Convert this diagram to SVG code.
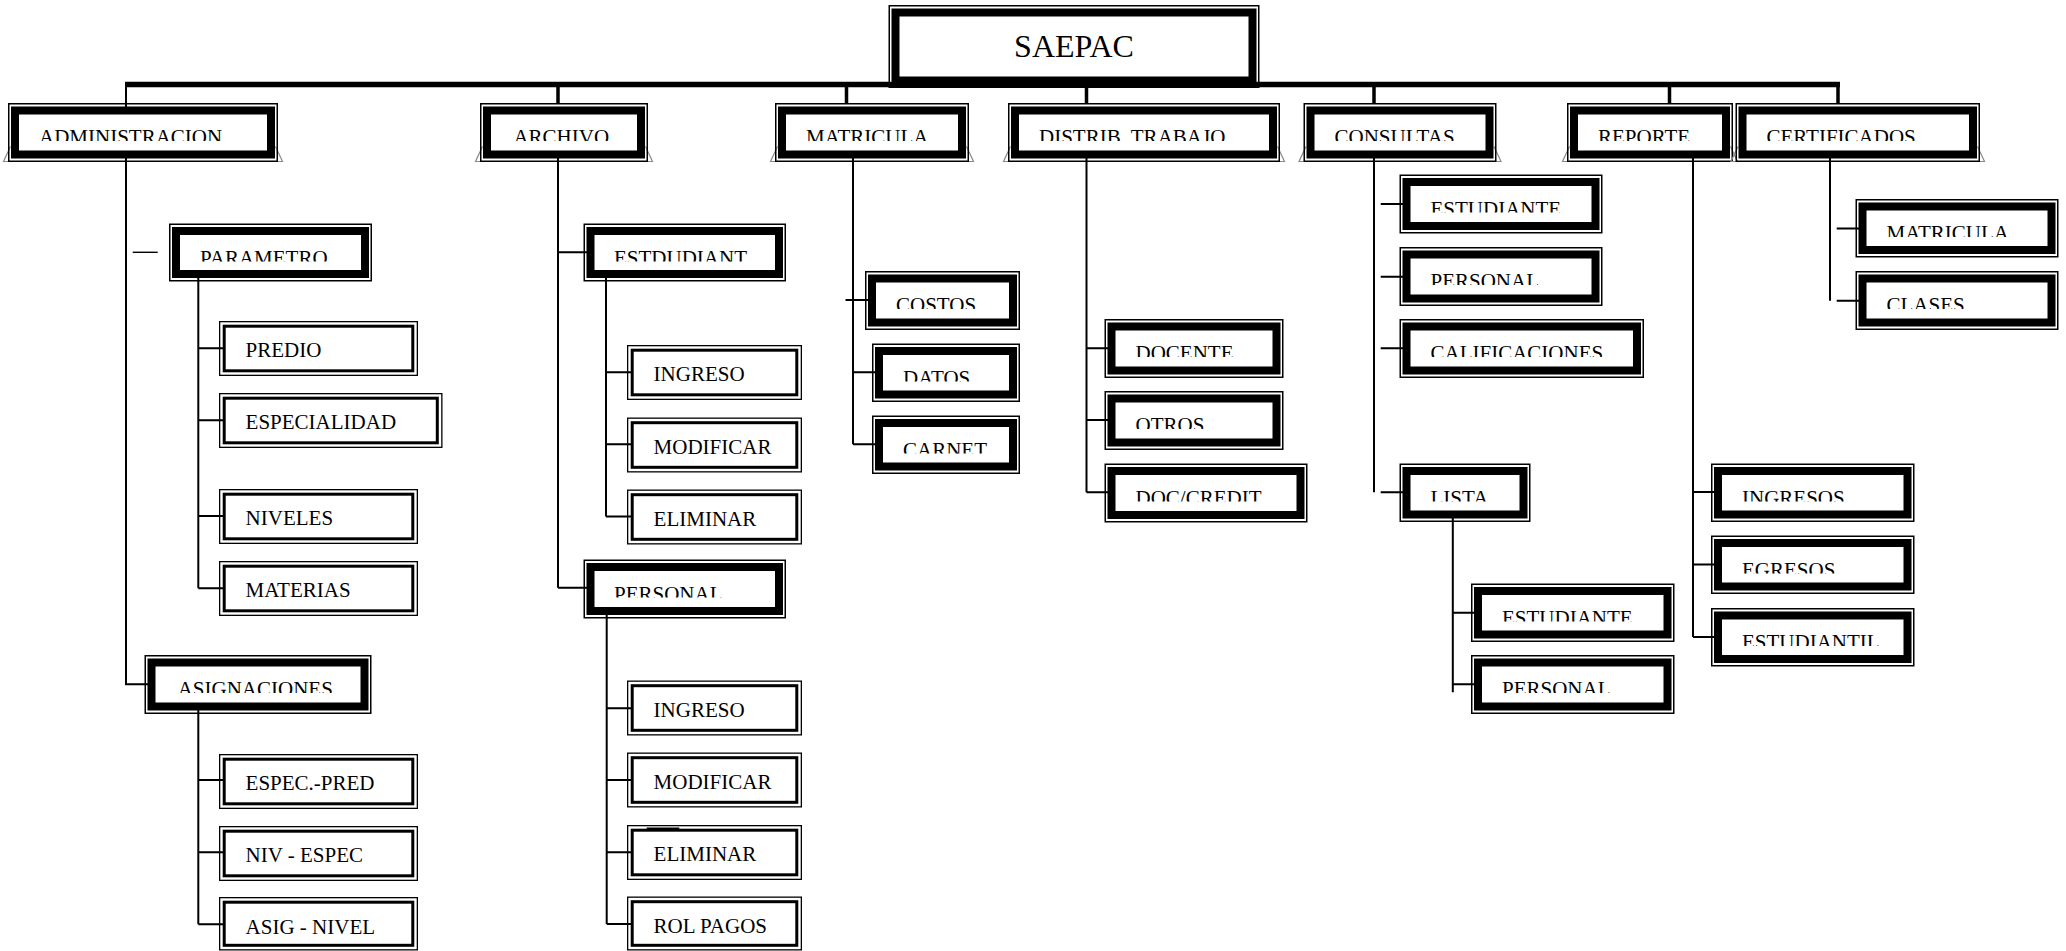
<svg xmlns="http://www.w3.org/2000/svg" width="2066" height="951" viewBox="0 0 2066 951">
<style>
.o{fill:none;stroke:#000;stroke-width:1.5}
.b{fill:#fff;stroke:#000;stroke-width:8}
.to{fill:none;stroke:#000;stroke-width:1.3}
.ti{fill:#fff;stroke:#000;stroke-width:3}
.bev{fill:none;stroke:#8a8a8a;stroke-width:1.2}
.c{fill:none;stroke:#000;stroke-width:2}
.ct{fill:none;stroke:#000;stroke-width:3.5}
.bar{fill:none;stroke:#000;stroke-width:5.5}
.thin{fill:none;stroke:#000;stroke-width:1.4}
.lbl{font-family:"Liberation Serif","Times New Roman",serif;font-size:21px;fill:#000}
.big{font-family:"Liberation Serif","Times New Roman",serif;font-size:32px;fill:#000}
</style>
<rect width="2066" height="951" fill="#fff"/>
<g id="connectors">
<path class="bar" d="M125 84.5H1840"/>
<path class="ct" d="M558 84.5V104M846.5 84.5V104M1086.5 84.5V104M1374 84.5V104M1669.5 84.5V104M1838 84.5V104"/>
<path class="c" d="M126 84.5V684.3H148"/>
<path class="thin" d="M132.7 252.3H157.7"/>
<path class="c" d="M198.3 275V588.3M198.3 348.3H223M198.3 420.3H223M198.3 516H223M198.3 588.3H223"/>
<path class="c" d="M198.3 706V924.3M198.3 780H223M198.3 852.3H223M198.3 924.3H223"/>
<path class="c" d="M558 150V587.7M558 252.3H588M558 587.7H588"/>
<path class="c" d="M606 275V516.5M606 372.3H631M606 444.3H631M606 516.5H631"/>
<path class="c" d="M606.7 612V924M606.7 708.3H631M606.7 780H631M606.7 852.3H631M606.7 924H631"/>
<path class="thin" d="M646.7 828.3H679.3"/>
<path class="c" d="M853 150V444.3M845.5 300H869M853 372.3H876M853 444.3H876"/>
<path class="c" d="M1086.5 150V492.3M1086.5 348.3H1108M1086.5 420H1108M1086.5 492.3H1108"/>
<path class="c" d="M1374 150V492.3M1380.7 204H1403M1380.7 276.7H1403M1380.7 348.3H1403M1380.7 492.3H1403"/>
<path class="c" d="M1452.8 515V692.3M1452.8 612.7H1475M1452.8 684.3H1475"/>
<path class="c" d="M1693 150V637M1693 492H1715M1693 564.6H1715M1693 637H1715"/>
<path class="c" d="M1830 150V300.8M1836.7 228.6H1859M1836.7 300.8H1859"/>
</g>
<g id="n-saepac">
<rect class="o" x="889.25" y="5.75" width="369.5" height="81.5"/>
<rect class="b" x="895.5" y="12.5" width="357" height="68"/>
<text class="big" x="1074" y="56.7" text-anchor="middle">SAEPAC</text>
</g>
<g id="n-administracion">
<path class="bev" d="M10.5 146.5L3.5 161.5H282.5L275.5 146.5"/>
<rect class="o" x="8.75" y="103.75" width="268.5" height="57.5"/>
<rect class="b" x="15" y="110.5" width="256" height="44"/>
<svg x="19" y="114.5" width="248" height="26.5"><text class="lbl" x="20" y="29.5">ADMINISTRACION</text></svg>
</g>
<g id="n-archivo">
<path class="bev" d="M482.5 146.5L475.5 161.5H652.5L645.5 146.5"/>
<rect class="o" x="480.75" y="103.75" width="166.5" height="57.5"/>
<rect class="b" x="487" y="110.5" width="154" height="44"/>
<svg x="491" y="114.5" width="146" height="26.5"><text class="lbl" x="22.4" y="29.5">ARCHIVO</text></svg>
</g>
<g id="n-matricula">
<path class="bev" d="M777.5 146.5L770.5 161.5H973.5L966.5 146.5"/>
<rect class="o" x="775.75" y="103.75" width="192.5" height="57.5"/>
<rect class="b" x="782" y="110.5" width="180" height="44"/>
<svg x="786" y="114.5" width="172" height="26.5"><text class="lbl" x="20" y="29.5">MATRICULA</text></svg>
</g>
<g id="n-distrib">
<path class="bev" d="M1010.5 146.5L1003.5 161.5H1284.5L1277.5 146.5"/>
<rect class="o" x="1008.75" y="103.75" width="270.5" height="57.5"/>
<rect class="b" x="1015" y="110.5" width="258" height="44"/>
<svg x="1019" y="114.5" width="250" height="26.5"><text class="lbl" x="20" y="29.5">DISTRIB. TRABAJO</text></svg>
</g>
<g id="n-consultas">
<path class="bev" d="M1306 146.5L1299 161.5H1501L1494 146.5"/>
<rect class="o" x="1304.25" y="103.75" width="191.5" height="57.5"/>
<rect class="b" x="1310.5" y="110.5" width="179" height="44"/>
<svg x="1314.5" y="114.5" width="171" height="26.5"><text class="lbl" x="20" y="29.5">CONSULTAS</text></svg>
</g>
<g id="n-reporte">
<path class="bev" d="M1569.5 146.5L1562.5 161.5H1737.5L1730.5 146.5"/>
<rect class="o" x="1567.75" y="103.75" width="164.5" height="57.5"/>
<rect class="b" x="1574" y="110.5" width="152" height="44"/>
<svg x="1578" y="114.5" width="144" height="26.5"><text class="lbl" x="20" y="29.5">REPORTE</text></svg>
</g>
<g id="n-certificados">
<path class="bev" d="M1738 146.5L1731 161.5H1984.5L1977.5 146.5"/>
<rect class="o" x="1736.25" y="103.75" width="243" height="57.5"/>
<rect class="b" x="1742.5" y="110.5" width="230.5" height="44"/>
<svg x="1746.5" y="114.5" width="222.5" height="26.5"><text class="lbl" x="20" y="29.5">CERTIFICADOS</text></svg>
</g>
<g id="n-parametro">
<rect class="o" x="169.75" y="224.25" width="201.5" height="56.5"/>
<rect class="b" x="176" y="231" width="189" height="43"/>
<svg x="180" y="235" width="181" height="26.5"><text class="lbl" x="20" y="29.5">PARAMETRO</text></svg>
</g>
<g id="n-predio">
<rect class="to" x="219.65" y="321.65" width="197.7" height="53.7"/>
<rect class="ti" x="224.2" y="326.2" width="188.6" height="44.6"/>
<text class="lbl" x="245.6" y="357.3">PREDIO</text>
</g>
<g id="n-especialidad">
<rect class="to" x="219.65" y="393.65" width="222.2" height="53.7"/>
<rect class="ti" x="224.2" y="398.2" width="213.1" height="44.6"/>
<text class="lbl" x="245.6" y="429.3">ESPECIALIDAD</text>
</g>
<g id="n-niveles">
<rect class="to" x="219.65" y="489.65" width="197.7" height="53.7"/>
<rect class="ti" x="224.2" y="494.2" width="188.6" height="44.6"/>
<text class="lbl" x="245.6" y="525.3">NIVELES</text>
</g>
<g id="n-materias">
<rect class="to" x="219.65" y="561.65" width="197.7" height="53.7"/>
<rect class="ti" x="224.2" y="566.2" width="188.6" height="44.6"/>
<text class="lbl" x="245.6" y="597.3">MATERIAS</text>
</g>
<g id="n-asignaciones">
<rect class="o" x="145.25" y="655.75" width="225.5" height="57.5"/>
<rect class="b" x="151.5" y="662.5" width="213" height="44"/>
<svg x="155.5" y="666.5" width="205" height="26.5"><text class="lbl" x="22.2" y="29.5">ASIGNACIONES</text></svg>
</g>
<g id="n-espec-pred">
<rect class="to" x="219.65" y="754.65" width="197.7" height="53.7"/>
<rect class="ti" x="224.2" y="759.2" width="188.6" height="44.6"/>
<text class="lbl" x="245.6" y="790.3">ESPEC.-PRED</text>
</g>
<g id="n-niv-espec">
<rect class="to" x="219.65" y="826.65" width="197.7" height="53.7"/>
<rect class="ti" x="224.2" y="831.2" width="188.6" height="44.6"/>
<text class="lbl" x="245.6" y="862.3">NIV - ESPEC</text>
</g>
<g id="n-asig-nivel">
<rect class="to" x="219.65" y="897.65" width="197.7" height="52.2"/>
<rect class="ti" x="224.2" y="902.2" width="188.6" height="43.1"/>
<text class="lbl" x="245.6" y="933.8">ASIG - NIVEL</text>
</g>
<g id="n-estdudiant">
<rect class="o" x="584.25" y="224.25" width="201" height="56.5"/>
<rect class="b" x="590.5" y="231" width="188.5" height="43"/>
<svg x="594.5" y="235" width="180.5" height="26.5"><text class="lbl" x="19.5" y="29.5">ESTDUDIANT</text></svg>
</g>
<g id="n-ingreso-e">
<rect class="to" x="627.65" y="345.65" width="173.7" height="53.7"/>
<rect class="ti" x="632.2" y="350.2" width="164.6" height="44.6"/>
<text class="lbl" x="653.6" y="381.3">INGRESO</text>
</g>
<g id="n-modificar-e">
<rect class="to" x="627.65" y="418.15" width="173.7" height="53.7"/>
<rect class="ti" x="632.2" y="422.7" width="164.6" height="44.6"/>
<text class="lbl" x="653.6" y="453.8">MODIFICAR</text>
</g>
<g id="n-eliminar-e">
<rect class="to" x="627.65" y="490.15" width="173.7" height="53.7"/>
<rect class="ti" x="632.2" y="494.7" width="164.6" height="44.6"/>
<text class="lbl" x="653.6" y="525.8">ELIMINAR</text>
</g>
<g id="n-personal-a">
<rect class="o" x="584.25" y="560.25" width="201" height="57.5"/>
<rect class="b" x="590.5" y="567" width="188.5" height="44"/>
<svg x="594.5" y="571" width="180.5" height="26.5"><text class="lbl" x="19.5" y="29.5">PERSONAL</text></svg>
</g>
<g id="n-ingreso-p">
<rect class="to" x="627.65" y="681.15" width="173.7" height="53.7"/>
<rect class="ti" x="632.2" y="685.7" width="164.6" height="44.6"/>
<text class="lbl" x="653.6" y="716.8">INGRESO</text>
</g>
<g id="n-modificar-p">
<rect class="to" x="627.65" y="753.15" width="173.7" height="53.7"/>
<rect class="ti" x="632.2" y="757.7" width="164.6" height="44.6"/>
<text class="lbl" x="653.6" y="788.8">MODIFICAR</text>
</g>
<g id="n-eliminar-p">
<rect class="to" x="627.65" y="825.65" width="173.7" height="53.7"/>
<rect class="ti" x="632.2" y="830.2" width="164.6" height="44.6"/>
<text class="lbl" x="653.6" y="861.3">ELIMINAR</text>
</g>
<g id="n-rol-pagos">
<rect class="to" x="627.65" y="897.15" width="173.7" height="52.7"/>
<rect class="ti" x="632.2" y="901.7" width="164.6" height="43.6"/>
<text class="lbl" x="653.6" y="932.8">ROL PAGOS</text>
</g>
<g id="n-costos">
<rect class="o" x="865.75" y="271.75" width="153.5" height="57.5"/>
<rect class="b" x="872" y="278.5" width="141" height="44"/>
<svg x="876" y="282.5" width="133" height="26.5"><text class="lbl" x="20" y="29.5">COSTOS</text></svg>
</g>
<g id="n-datos">
<rect class="o" x="872.75" y="344.25" width="146.5" height="57"/>
<rect class="b" x="879" y="351" width="134" height="43.5"/>
<svg x="883" y="355" width="126" height="26.5"><text class="lbl" x="20" y="29.5">DATOS</text></svg>
</g>
<g id="n-carnet">
<rect class="o" x="872.75" y="416.25" width="146.5" height="57"/>
<rect class="b" x="879" y="423" width="134" height="43.5"/>
<svg x="883" y="427" width="126" height="26.5"><text class="lbl" x="20" y="29.5">CARNET</text></svg>
</g>
<g id="n-docente">
<rect class="o" x="1105.25" y="319.75" width="177.5" height="57.5"/>
<rect class="b" x="1111.5" y="326.5" width="165" height="44"/>
<svg x="1115.5" y="330.5" width="157" height="26.5"><text class="lbl" x="20" y="29.5">DOCENTE</text></svg>
</g>
<g id="n-otros">
<rect class="o" x="1105.25" y="391.75" width="177.5" height="57.5"/>
<rect class="b" x="1111.5" y="398.5" width="165" height="44"/>
<svg x="1115.5" y="402.5" width="157" height="26.5"><text class="lbl" x="20" y="29.5">OTROS</text></svg>
</g>
<g id="n-doc-credit">
<rect class="o" x="1105.25" y="464.25" width="201.5" height="57.5"/>
<rect class="b" x="1111.5" y="471" width="189" height="44"/>
<svg x="1115.5" y="475" width="181" height="26.5"><text class="lbl" x="20" y="29.5">DOC/CREDIT</text></svg>
</g>
<g id="n-estudiante-c">
<rect class="o" x="1400.25" y="175.25" width="201.5" height="57.5"/>
<rect class="b" x="1406.5" y="182" width="189" height="44"/>
<svg x="1410.5" y="186" width="181" height="26.5"><text class="lbl" x="20" y="29.5">ESTUDIANTE</text></svg>
</g>
<g id="n-personal-c">
<rect class="o" x="1400.25" y="247.75" width="201.5" height="57.5"/>
<rect class="b" x="1406.5" y="254.5" width="189" height="44"/>
<svg x="1410.5" y="258.5" width="181" height="26.5"><text class="lbl" x="20" y="29.5">PERSONAL</text></svg>
</g>
<g id="n-calificaciones">
<rect class="o" x="1400.25" y="319.75" width="243" height="57.5"/>
<rect class="b" x="1406.5" y="326.5" width="230.5" height="44"/>
<svg x="1410.5" y="330.5" width="222.5" height="26.5"><text class="lbl" x="20" y="29.5">CALIFICACIONES</text></svg>
</g>
<g id="n-lista">
<rect class="o" x="1400.25" y="464.25" width="129.5" height="57"/>
<rect class="b" x="1406.5" y="471" width="117" height="43.5"/>
<svg x="1410.5" y="475" width="109" height="26.5"><text class="lbl" x="20" y="29.5">LISTA</text></svg>
</g>
<g id="n-estudiante-l">
<rect class="o" x="1471.75" y="584.25" width="202" height="57"/>
<rect class="b" x="1478" y="591" width="189.5" height="43.5"/>
<svg x="1482" y="595" width="181.5" height="26.5"><text class="lbl" x="20" y="29.5">ESTUDIANTE</text></svg>
</g>
<g id="n-personal-l">
<rect class="o" x="1471.75" y="655.75" width="202" height="57.5"/>
<rect class="b" x="1478" y="662.5" width="189.5" height="44"/>
<svg x="1482" y="666.5" width="181.5" height="26.5"><text class="lbl" x="20" y="29.5">PERSONAL</text></svg>
</g>
<g id="n-ingresos">
<rect class="o" x="1711.75" y="464.25" width="202" height="57"/>
<rect class="b" x="1718" y="471" width="189.5" height="43.5"/>
<svg x="1722" y="475" width="181.5" height="26.5"><text class="lbl" x="20" y="29.5">INGRESOS</text></svg>
</g>
<g id="n-egresos">
<rect class="o" x="1711.75" y="536.25" width="202" height="57"/>
<rect class="b" x="1718" y="543" width="189.5" height="43.5"/>
<svg x="1722" y="547" width="181.5" height="26.5"><text class="lbl" x="20" y="29.5">EGRESOS</text></svg>
</g>
<g id="n-estudiantil">
<rect class="o" x="1711.75" y="608.75" width="202" height="57"/>
<rect class="b" x="1718" y="615.5" width="189.5" height="43.5"/>
<svg x="1722" y="619.5" width="181.5" height="26.5"><text class="lbl" x="20" y="29.5">ESTUDIANTIL</text></svg>
</g>
<g id="n-matricula-c">
<rect class="o" x="1856.25" y="199.75" width="201.5" height="57"/>
<rect class="b" x="1862.5" y="206.5" width="189" height="43.5"/>
<svg x="1866.5" y="210.5" width="181" height="26.5"><text class="lbl" x="20" y="29.5">MATRICULA</text></svg>
</g>
<g id="n-clases">
<rect class="o" x="1856.25" y="271.75" width="201.5" height="57.5"/>
<rect class="b" x="1862.5" y="278.5" width="189" height="44"/>
<svg x="1866.5" y="282.5" width="181" height="26.5"><text class="lbl" x="20" y="29.5">CLASES</text></svg>
</g>
</svg>
